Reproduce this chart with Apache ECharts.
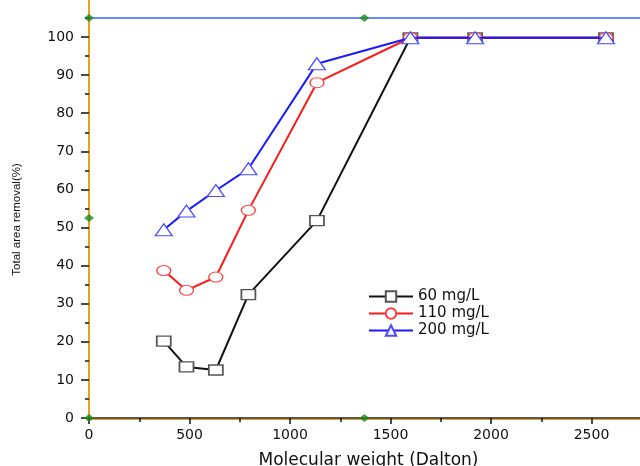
<!DOCTYPE html>
<html>
<head>
<meta charset="utf-8">
<script src="https://cdn.jsdelivr.net/npm/echarts@6/dist/echarts.min.js"></script>
<style>
  html, body { margin: 0; padding: 0; background: #fff; overflow: hidden; }
  #chart { width: 692px; height: 466px; }
</style>
</head>
<body>
<div id="chart"></div>
<script>
// molecular weight (Dalton) of each fraction
var mwX = [372, 485, 631, 793, 1134, 1599, 1921, 2572]
// total area removal (%)
var removal60 = [20.2, 13.4, 12.6, 32.4, 51.8, 99.8, 99.8, 99.8]
var removal110 = [38.7, 33.5, 37.0, 54.5, 88.0, 99.8, 99.8, 99.8]
var removal200 = [49.4, 54.3, 59.7, 65.4, 93.0, 99.8, 99.8, 99.8]
var seriesNames = ['60 mg/L', '110 mg/L', '200 mg/L']
// little green selection handles left on the frame
var handleX = [0, 1370, 0, 1370, 0]
var handleY = [105, 105, 52.5, 0, 0]

function pairs(xs, ys) {
  return xs.map(function (x, i) { return [x, ys[i]] })
}

var tickFont = 'DejaVu Sans'
// chart div is wider than the 640px window so the frame runs off the right edge
var myChart = echarts.init(document.getElementById('chart'))

var option = {
  animation: false,
  grid: { left: 89, right: 0, top: -1.1, bottom: 48, containLabel: false, outerBoundsMode: 'none' },
  legend: {
    orient: 'vertical',
    left: 363,
    top: 284,
    itemWidth: 44,
    itemHeight: 13,
    itemGap: 2,
    textStyle: { fontFamily: tickFont, fontSize: 15, color: '#111' },
    data: seriesNames
  },
  xAxis: [{
    type: 'value',
    min: 0,
    max: 3000,
    interval: 500,
    name: 'Molecular weight (Dalton)',
    nameLocation: 'middle',
    nameGap: 34,
    nameTextStyle: { fontFamily: tickFont, fontSize: 17, color: '#111', padding: [0, 44, 0, 0] },
    axisLine: { onZero: false, lineStyle: { color: '#222', width: 1.5 } },
    axisTick: { show: true, length: 6, lineStyle: { color: '#111', width: 1.5 } },
    minorTick: { show: true, splitNumber: 2, length: 4, lineStyle: { color: '#111', width: 1.5 } },
    axisLabel: {
      margin: 10,
      fontFamily: tickFont,
      fontSize: 14,
      color: '#111',
      formatter: function (v) { return String(v) }
    },
    splitLine: { show: false },
    z: 3
  }, {
    // thin orange edge under the bottom frame line
    type: 'value',
    position: 'bottom',
    offset: 1.5,
    min: 0,
    max: 3000,
    axisLine: { onZero: false, lineStyle: { color: '#e8a317', width: 1 } },
    axisTick: { show: false },
    axisLabel: { show: false },
    splitLine: { show: false }
  }],
  yAxis: [{
    type: 'value',
    min: 0,
    max: 110,
    interval: 10,
    name: 'Total area removal(%)',
    nameLocation: 'middle',
    nameGap: 66,
    nameTextStyle: { fontFamily: 'Liberation Sans', fontSize: 11.5, color: '#111', padding: [0, 22, 0, 0] },
    axisLine: { onZero: false, lineStyle: { color: '#e8a317', width: 2 } },
    axisTick: { show: true, length: 8, lineStyle: { color: '#111', width: 1.5 } },
    minorTick: { show: true, splitNumber: 2, length: 4, lineStyle: { color: '#111', width: 1.5 } },
    axisLabel: {
      margin: 15,
      fontFamily: tickFont,
      fontSize: 14,
      color: '#111',
      formatter: function (v) { return v > 100 ? '' : String(v) }
    },
    splitLine: { show: false }
  }],
  series: [
    {
      name: seriesNames[0],
      type: 'line',
      data: pairs(mwX, removal60),
      symbol: 'rect',
      symbolSize: [14, 10],
      lineStyle: { color: '#111', width: 2 },
      itemStyle: { color: '#fff', borderColor: '#555', borderWidth: 1.5 },
      z: 3
    },
    {
      name: seriesNames[1],
      type: 'line',
      data: pairs(mwX, removal110),
      symbol: 'circle',
      symbolSize: [14, 10],
      lineStyle: { color: '#ff1a1a', width: 2 },
      itemStyle: { color: '#fff', borderColor: '#ff4040', borderWidth: 1.2 },
      z: 4
    },
    {
      name: seriesNames[2],
      type: 'line',
      data: pairs(mwX, removal200),
      symbol: 'triangle',
      symbolSize: [17, 12],
      lineStyle: { color: '#1a1aff', width: 2 },
      itemStyle: { color: '#fff', borderColor: '#4a4aff', borderWidth: 1.2 },
      z: 5,
      markLine: {
        silent: true,
        symbol: 'none',
        label: { show: false },
        lineStyle: { color: '#3366ff', width: 1.5, type: 'solid' },
        data: [{ yAxis: 105 }]
      }
    },
    {
      name: 'handles',
      type: 'scatter',
      data: pairs(handleX, handleY),
      symbol: 'diamond',
      symbolSize: [10, 8],
      itemStyle: { color: '#1e8a1e' },
      z: 6
    }
  ]
}

myChart.setOption(option, true)
</script>
</body>
</html>
